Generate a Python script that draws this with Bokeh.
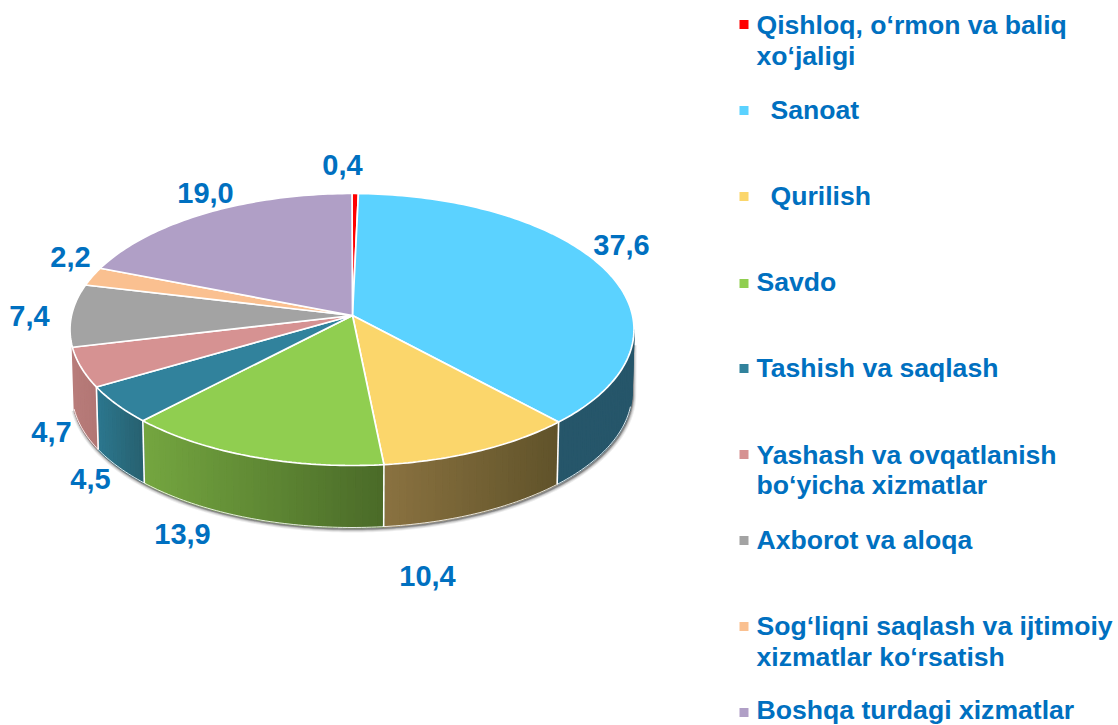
import numpy as np
from bokeh.plotting import figure
from bokeh.models import Range1d
from bokeh.core.properties import value
from bokeh.embed import file_html
from bokeh.resources import INLINE

# ---- data ----
categories = ["Qishloq, o‘rmon va baliq xo‘jaligi", "Sanoat", "Qurilish", "Savdo",
              "Tashish va saqlash", "Yashash va ovqatlanish bo‘yicha xizmatlar",
              "Axborot va aloqa", "Sog‘liqni saqlash va ijtimoiy xizmatlar ko‘rsatish",
              "Boshqa turdagi xizmatlar"]
values = [0.4, 37.6, 10.4, 13.9, 4.5, 4.7, 7.4, 2.2, 19.0]
colors = ["#FF0000", "#5BD2FF", "#FBD66B", "#90CE50", "#31829C", "#D69292", "#A3A3A3", "#FAC090", "#B09FC6"]
# wall shading per slice: (colour at the wall's left end, colour at its right end)
wall_colors = {1: ("#26566A", "#26566A"), 2: ("#8A7240", "#60532A"), 3: ("#74A640", "#4A6A28"),
               4: ("#2C778E", "#27606F"), 5: ("#B87C7A", "#B27674")}

# ---- layout (reference pixels) ----
CX, CY, RX, RY = 351.5, 329.0, 282.0, 136.0     # top ellipse
BX, BY, BRX, BRY = 351.5, 392.0, 280.0, 135.0   # bottom ellipse
AX, AY = 352.0, 315.0                           # perspective apex of the slices
PERSP = 5.5                                     # degrees of perspective skew
label_xy = [(342, 164), (621, 244), (427, 575), (182, 533), (90, 478), (51, 431), (29, 315), (70, 256), (205, 192)]
legend_rows = [
    (24, 756, 24, "Qishloq, o‘rmon va baliq"), (None, 756, 55, "xo‘jaligi"),
    (110, 770, 109, "Sanoat"), (196, 770, 195, "Qurilish"), (283, 756, 281, "Savdo"),
    (368, 756, 367, "Tashish va saqlash"),
    (454, 756, 454, "Yashash va ovqatlanish"), (None, 756, 484, "bo‘yicha xizmatlar"),
    (540, 756, 539, "Axborot va aloqa"),
    (626, 756, 625, "Sog‘liqni saqlash va ijtimoiy"), (None, 756, 656, "xizmatlar ko‘rsatish"),
    (712, 756, 709, "Boshqa turdagi xizmatlar"),
]
legend_color_idx = [0, None, 1, 2, 3, 4, 5, None, 6, 7, None, 8]
TXT = "#0070C0"
FONT = value("Liberation Sans")

def warp(deg):
    return deg - PERSP * np.sin(np.radians(deg))

def top_pt(deg):
    r = np.radians(deg)
    return CX + RX * np.sin(r), CY - RY * np.cos(r)

def bot_pt(deg):
    r = np.radians(deg)
    return BX + BRX * np.sin(r), BY - BRY * np.cos(r)

def mix(c1, c2, f):
    a = [int(c1[i:i + 2], 16) for i in (1, 3, 5)]
    b = [int(c2[i:i + 2], 16) for i in (1, 3, 5)]
    return "#%02x%02x%02x" % tuple(int(round(x + (y - x) * f)) for x, y in zip(a, b))

p = figure(width=1118, height=725, x_range=Range1d(0, 1118), y_range=Range1d(725, 0),
           output_backend="svg", toolbar_location=None, min_border=0)
p.axis.visible = False
p.grid.visible = False
p.outline_line_color = None
p.background_fill_color = "white"

edges = np.cumsum([0.0] + values) / sum(values) * 360.0
starts = warp(edges[:-1])
ends = warp(edges[1:])

# soft shadow under the wall (runs down the right edge, then along the bottom ellipse)
ts = np.linspace(90, 263, 174)
sx, sy = bot_pt(ts)
tx0, ty0 = top_pt(96.0)
shx = np.r_[tx0, sx]
shy = np.r_[ty0, sy]
for w, a in [(7, 0.07), (5, 0.10), (3, 0.16), (1.5, 0.25)]:
    p.line(shx + 0.8, shy + 1.5, line_color="black", line_width=w, line_alpha=a)

# walls
wx, wy, wc = [], [], []
sep_x, sep_y = [], []
for i, (c_left, c_right) in wall_colors.items():
    a, b = max(starts[i], 90.0), ends[i]
    grid = np.linspace(a, b, max(2, int((b - a) / 1.5) + 1))
    xa, ya = top_pt(grid)
    xb, yb = bot_pt(grid)
    x_lo, x_hi = xa.min(), xa.max()
    for k in range(len(grid) - 1):
        f = ((xa[k] + xa[k + 1]) / 2 - x_lo) / max(x_hi - x_lo, 1)
        wx.append([xa[k], xa[k + 1], xb[k + 1], xb[k]])
        wy.append([ya[k], ya[k + 1], yb[k + 1], yb[k]])
        wc.append(mix(c_left, c_right, f))
    sep_x.append([xa[-1], xb[-1]])
    sep_y.append([ya[-1], yb[-1]])
p.patches(wx, wy, fill_color=wc, line_color=wc, line_width=1.5)
p.multi_line(sep_x[:-1], sep_y[:-1], line_color="white", line_width=1.6)
p.line(sx[6:], sy[6:], line_color="white", line_width=1.0, line_alpha=0.85)

# top face
fx, fy = [], []
for a, b in zip(starts, ends):
    grid = np.linspace(a, b, max(3, int(b - a) + 2))
    xa, ya = top_pt(grid)
    fx.append(np.r_[AX, xa].tolist())
    fy.append(np.r_[AY, ya].tolist())
p.patches(fx, fy, fill_color=colors, line_color="white", line_width=1.7)

# value labels
p.text([q[0] for q in label_xy], [q[1] for q in label_xy],
       text=[f"{v:.1f}".replace(".", ",") for v in values],
       text_font=FONT, text_font_style="bold", text_font_size="29px", text_color=TXT,
       text_align="center", text_baseline="middle")

# legend
mk = [(r[0], legend_color_idx[n]) for n, r in enumerate(legend_rows) if r[0] is not None]
p.rect([743.5] * len(mk), [m[0] for m in mk], width=9, height=9,
       fill_color=[colors[m[1]] for m in mk], line_color=None)
p.text([r[1] for r in legend_rows], [r[2] for r in legend_rows], text=[r[3] for r in legend_rows],
       text_font=FONT, text_font_style="bold", text_font_size="26.6px", text_color=TXT,
       text_align="left", text_baseline="middle")

open("out.html", "w").write(file_html(p, INLINE))
